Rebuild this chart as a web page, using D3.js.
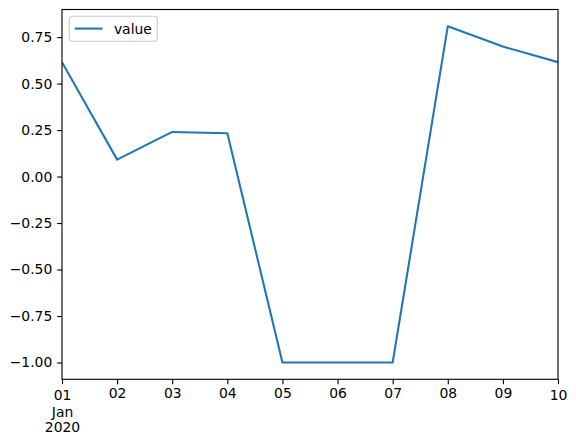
<!DOCTYPE html>
<html>
<head>
<meta charset="utf-8">
<script src="https://cdn.jsdelivr.net/npm/d3@7"></script>
<style>
html,body{margin:0;padding:0;background:#fff;}
text{font-family:"DejaVu Sans",sans-serif;}
</style>
</head>
<body>
<svg id="chart" width="576" height="445"></svg>
<script>
const dates = ["2020-01-01","2020-01-02","2020-01-03","2020-01-04","2020-01-05","2020-01-06","2020-01-07","2020-01-08","2020-01-09","2020-01-10"];
const values = [0.615, 0.091, 0.240, 0.233, -1.0, -1.0, -1.0, 0.808, 0.699, 0.615];
const seriesName = "value";
const yTicks = [-1.00, -0.75, -0.50, -0.25, 0.00, 0.25, 0.50, 0.75];
const xTickLabels = ["01","02","03","04","05","06","07","08","09","10"];

const svg = d3.select("#chart");
const L = 62, R = 558, T = 9.5, B = 379.3;
const fs = 13.9;
const color = "#1f77b4";

const parsed = dates.map(d => new Date(d + "T00:00:00Z"));
const x = d3.scaleUtc().domain(d3.extent(parsed)).range([L, R]);
const vmin = d3.min(values), vmax = d3.max(values);
const pad = (vmax - vmin) * 0.05;
const y = d3.scaleLinear().domain([vmin - pad, vmax + pad]).range([B, T]);

// line
const line = d3.line().x((d,i) => x(parsed[i])).y(d => y(d));
svg.append("defs").append("clipPath").attr("id","clip")
  .append("rect").attr("x",L).attr("y",T).attr("width",R-L).attr("height",B-T);
svg.append("path").datum(values)
  .attr("d", line)
  .attr("fill","none").attr("stroke",color).attr("stroke-width",2.08)
  .attr("stroke-linejoin","round").attr("stroke-linecap","butt")
  .attr("clip-path","url(#clip)");

// y axis
const yAxis = d3.axisLeft(y).tickValues(yTicks).tickSize(4.86).tickPadding(4.86)
  .tickFormat(d => d3.format(".2f")(d).replace("-", "\u2212"));
const gy = svg.append("g").attr("transform",`translate(${L},0)`).call(yAxis);
gy.select(".domain").remove();
gy.selectAll(".tick line").attr("stroke","#000").attr("stroke-width",1.11);
gy.selectAll(".tick text").attr("font-size",fs).attr("fill","#000")
  .attr("font-family","DejaVu Sans");

// x axis
const xAxis = d3.axisBottom(x).tickValues(parsed).tickSize(4.86).tickPadding(0)
  .tickFormat((d,i) => xTickLabels[i]);
const gx = svg.append("g").attr("transform",`translate(0,${B})`).call(xAxis);
gx.select(".domain").remove();
gx.selectAll(".tick line").attr("stroke","#000").attr("stroke-width",1.11);
gx.selectAll(".tick text").attr("font-size",fs).attr("fill","#000")
  .attr("font-family","DejaVu Sans").attr("dy",null)
  .attr("y",(d,i) => (i === 0 || i === parsed.length-1) ? 400.3 - B : 397.6 - B);
// major label extra lines
const first = gx.selectAll(".tick").filter((d,i) => i === 0);
first.append("text").attr("y",417.4 - B).attr("text-anchor","middle")
  .attr("font-size",fs).attr("fill","#000").text("Jan");
first.append("text").attr("y",432.2 - B).attr("text-anchor","middle")
  .attr("font-size",fs).attr("fill","#000").text("2020");

// spines
svg.append("rect").attr("x",L).attr("y",T).attr("width",R-L).attr("height",B-T)
  .attr("fill","none").attr("stroke","#000").attr("stroke-width",1.11);

// legend
const lg = svg.append("g").attr("transform",`translate(69.3,16.3)`);
lg.append("rect").attr("x",0).attr("y",0).attr("width",88).attr("height",25)
  .attr("rx",2.8).attr("fill","#fff").attr("fill-opacity",0.8)
  .attr("stroke","#cccccc").attr("stroke-width",1.11);
lg.append("line").attr("x1",5.5).attr("x2",33.3).attr("y1",12.3).attr("y2",12.3)
  .attr("stroke",color).attr("stroke-width",2.08);
lg.append("text").attr("x",44.6).attr("y",17.3).attr("font-size",fs).attr("fill","#000")
  .text(seriesName);
</script>
</body>
</html>
